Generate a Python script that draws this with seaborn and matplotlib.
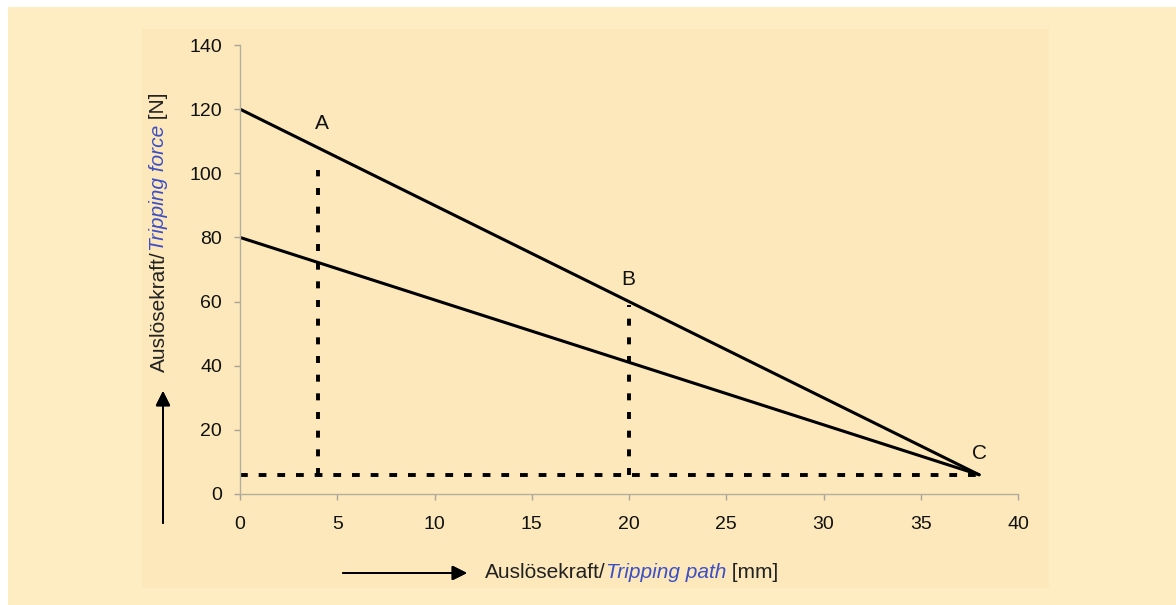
import numpy as np
import pandas as pd
import matplotlib
matplotlib.use('Agg')
import matplotlib.pyplot as plt
from matplotlib.patches import Rectangle
import seaborn as sns

# Kennlinien (Weg in mm, Kraft in N)
path_mm = [0, 38]
force_upper = [120, 6]
force_lower = [80, 6]

# Hilfslinien
drop_x = [4, 20]          # senkrechte Punktlinien bei A und B
drop_top = [101, 59]
base_force = 6            # waagerechte Strichlinie
base_end = 38

# Punktbeschriftungen
point_names = ['A', 'B', 'C']
point_x = [4.2, 19.95, 38.0]
point_y = [112.5, 64, 9.6]

x_ticks = [0, 5, 10, 15, 20, 25, 30, 35, 40]
y_ticks = [0, 20, 40, 60, 80, 100, 120, 140]

BLUE = '#3d4fc4'
W, H = 1176, 605


def chain_text(fig, x, y, parts, rotation=0, size=15):
    """Setzt Textteile mit unterschiedlichem Stil hintereinander."""
    r = fig.canvas.get_renderer()
    for s, style, color in parts:
        if rotation == 0:
            t = fig.text(x, y, s, ha='left', va='center', style=style, color=color, fontsize=size)
            bb = t.get_window_extent(r)
            x += bb.width / fig.bbox.width
        else:
            t = fig.text(x, y, s, ha='center', va='bottom', rotation=90, style=style,
                         color=color, fontsize=size)
            bb = t.get_window_extent(r)
            y += bb.height / fig.bbox.height


def main():
    sns.set_style('ticks')
    plt.rcParams['font.family'] = ['Liberation Sans', 'DejaVu Sans']

    fig = plt.figure(figsize=(W / 100, H / 100), dpi=100, facecolor='white')

    # Hintergrund
    fig.patches.append(Rectangle((8 / W, -0.01), 1, 1.01 - 7 / H, transform=fig.transFigure,
                                 facecolor='#feedc2', edgecolor='none', zorder=-2))
    fig.patches.append(Rectangle((142 / W, 1 - 588 / H), (1049 - 142) / W, (588 - 29) / H,
                                 transform=fig.transFigure, facecolor='#fce8bb',
                                 edgecolor='none', zorder=-1))

    ax = fig.add_axes([240 / W, 1 - 494 / H, (1018 - 240) / W, (494 - 45) / H])
    ax.set_facecolor('none')

    df = pd.DataFrame({'weg': path_mm, 'oben': force_upper, 'unten': force_lower})
    sns.lineplot(data=df, x='weg', y='oben', ax=ax, color='black', lw=2.2)
    sns.lineplot(data=df, x='weg', y='unten', ax=ax, color='black', lw=2.2)

    for xv, top in zip(drop_x, drop_top):
        ax.plot([xv, xv], [base_force, top], color='black', lw=2.8, ls=(0, (1.8, 3.0)))
    ax.plot([0, base_end], [base_force, base_force], color='black', lw=2.8, ls=(0, (2.0, 2.8)))

    for name, xv, yv in zip(point_names, point_x, point_y):
        ax.text(xv, yv, name, ha='center', va='bottom', fontsize=15, color='#111111')

    ax.set_xlim(0, 40)
    ax.set_ylim(0, 140)
    ax.set_xticks(x_ticks)
    ax.set_yticks(y_ticks)
    ax.set_xlabel('')
    ax.set_ylabel('')
    ax.tick_params(axis='both', colors='#a9a495', labelcolor='#111111', labelsize=14,
                   length=4, width=1)
    ax.tick_params(axis='x', pad=12)
    ax.tick_params(axis='y', pad=9)
    for side in ['top', 'right']:
        ax.spines[side].set_visible(False)
    for side in ['left', 'bottom']:
        ax.spines[side].set_color('#b4ae9c')
        ax.spines[side].set_linewidth(1)

    fig.canvas.draw()

    # Achsenbeschriftungen mit kursivem blauem Teil
    chain_text(fig, 485 / W, 1 - 573 / H,
               [('Auslösekraft/', 'normal', '#222222'),
                ('Tripping path', 'italic', BLUE),
                (' [mm]', 'normal', '#222222')])
    chain_text(fig, 159 / W, 1 - 372 / H,
               [('Auslösekraft/', 'normal', '#222222'),
                ('Tripping force', 'italic', BLUE),
                (' [N]', 'normal', '#222222')], rotation=90)

    arrow = dict(arrowstyle='-|>', color='black', lw=1.4, mutation_scale=22, shrinkA=0, shrinkB=0)
    fig.add_artist(plt.annotate('', xy=(467 / W, 1 - 573 / H), xytext=(343 / W, 1 - 573 / H),
                                xycoords='figure fraction', arrowprops=arrow))
    fig.add_artist(plt.annotate('', xy=(163 / W, 1 - 391 / H), xytext=(163 / W, 1 - 523 / H),
                                xycoords='figure fraction', arrowprops=arrow))

    fig.savefig('out.png', dpi=100, facecolor=fig.get_facecolor())
    plt.close('all')


if __name__ == '__main__':
    main()
